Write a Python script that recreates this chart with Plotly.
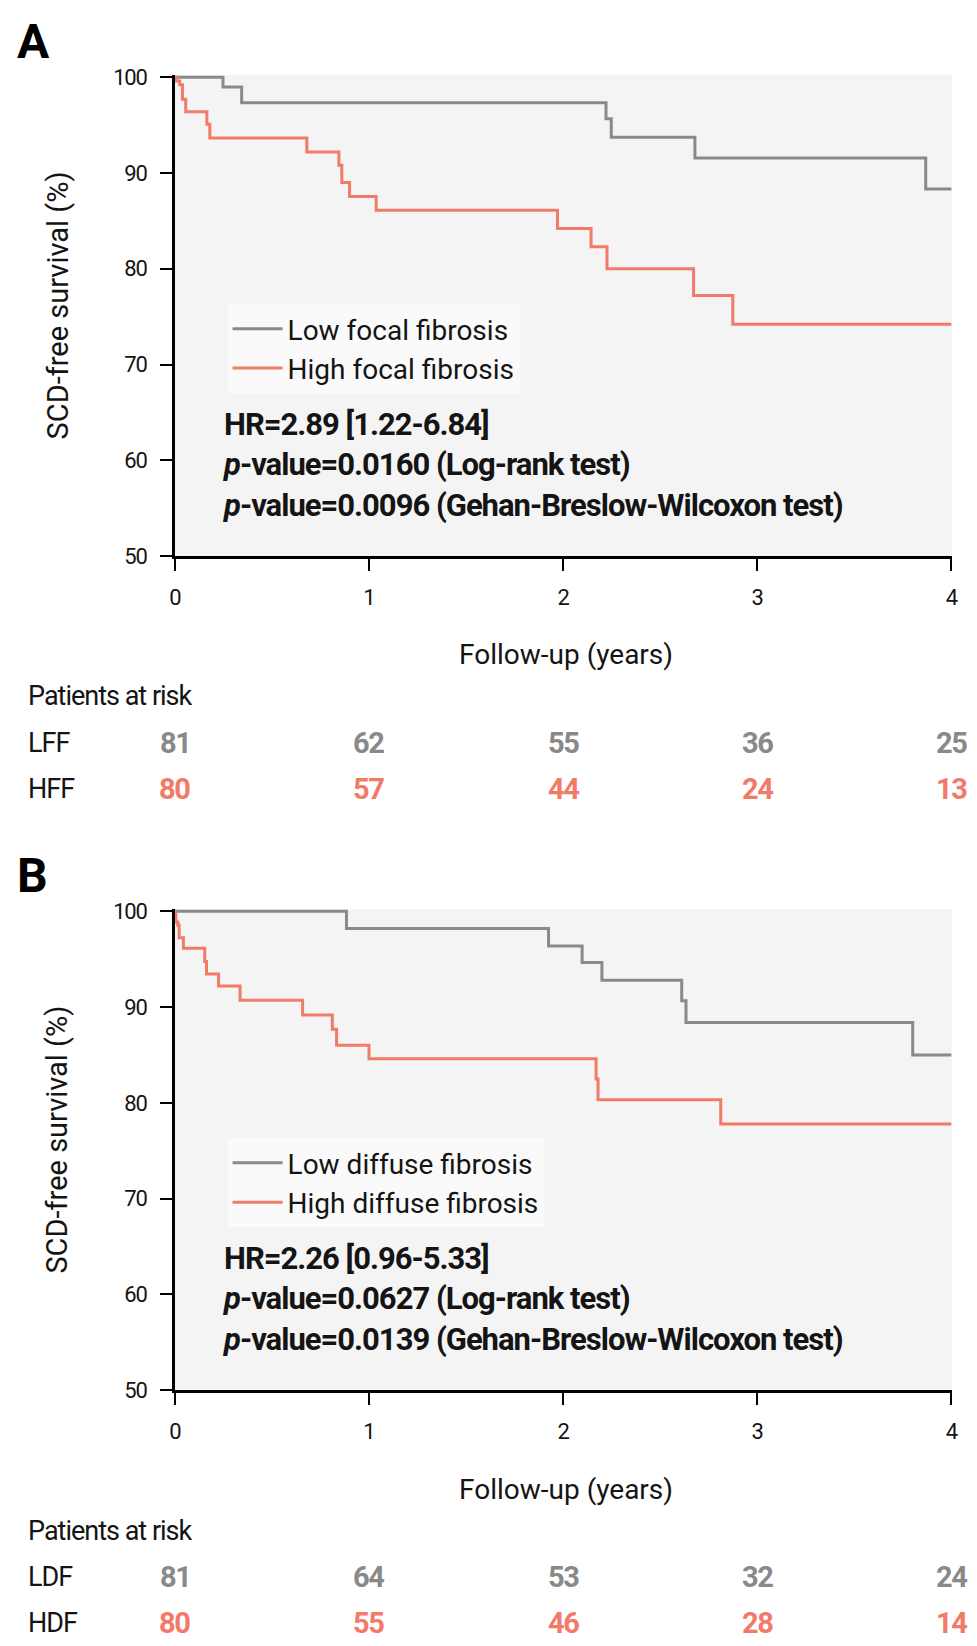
import plotly.graph_objects as go

# ---------------- data ----------------
# Panel A: focal fibrosis (Kaplan-Meier step curves, years vs SCD-free survival %)
lff_t = [0, 0.248, 0.344, 2.221, 2.248, 2.679, 3.868, 4.0]
lff_s = [100, 98.97, 97.32, 95.67, 93.72, 91.56, 88.33, 88.33]
hff_t = [0, 0.006, 0.025, 0.039, 0.056, 0.165, 0.18, 0.68, 0.845, 0.86, 0.90,
         1.037, 1.971, 2.144, 2.226, 2.672, 2.874, 4.0]
hff_s = [100, 99.6, 99.2, 97.7, 96.4, 95.1, 93.65, 92.2, 90.8, 89.0, 87.55,
         86.1, 84.2, 82.3, 80.0, 77.2, 74.2, 74.2]

# Panel B: diffuse fibrosis
ldf_t = [0, 0.884, 1.925, 2.098, 2.2, 2.611, 2.633, 3.801, 4.0]
ldf_s = [100, 98.2, 96.38, 94.67, 92.82, 90.66, 88.4, 85.0, 85.0]
hdf_t = [0, 0.005, 0.015, 0.022, 0.044, 0.154, 0.163, 0.225, 0.336, 0.658,
         0.811, 0.833, 1.0, 2.17, 2.18, 2.812, 4.0]
hdf_s = [100, 98.88, 98.54, 97.24, 96.15, 94.77, 93.47, 92.2, 90.73, 89.19,
         87.68, 86.03, 84.6, 82.5, 80.32, 77.8, 77.8]

# Patients at risk
risk_times = [0, 1, 2, 3, 4]
lff_risk = [81, 62, 55, 36, 25]
hff_risk = [80, 57, 44, 24, 13]
ldf_risk = [81, 64, 53, 32, 24]
hdf_risk = [80, 55, 46, 28, 14]

x_ticks = [0, 1, 2, 3, 4]
y_ticks = [50, 60, 70, 80, 90, 100]

stats_a = ["HR=2.89 [1.22-6.84]",
           "<i>p</i>-value=0.0160 (Log-rank test)",
           "<i>p</i>-value=0.0096 (Gehan-Breslow-Wilcoxon test)"]
stats_b = ["HR=2.26 [0.96-5.33]",
           "<i>p</i>-value=0.0627 (Log-rank test)",
           "<i>p</i>-value=0.0139 (Gehan-Breslow-Wilcoxon test)"]

# ---------------- style ----------------
W, H = 977, 1646
GRAY = "#898989"
RED = "#F27A68"
TXT = "#141414"
SANS = "Roboto, Liberation Sans, sans-serif"


def tight(s, ls):
    """tighten letter spacing to mimic the condensed face of the original"""
    return '<span style="letter-spacing:%spx">%s</span>' % (ls, s)


def py(px):  # pixel-from-top -> paper y
    return 1 - px / H


def pxx(px):  # pixel-from-left -> paper x
    return px / W


XDOM = [pxx(162.7), pxx(949)]
DY = 846  # vertical offset of panel B relative to panel A
dom_a = [py(545.7), py(57.6)]
dom_b = [py(545.7 + DY), py(57.6 + DY)]

fig = go.Figure()

fig.add_trace(go.Scatter(x=lff_t, y=lff_s, mode="lines", line=dict(shape="hv", color=GRAY, width=3),
                         name="Low focal fibrosis", xaxis="x", yaxis="y", legend="legend"))
fig.add_trace(go.Scatter(x=hff_t, y=hff_s, mode="lines", line=dict(shape="hv", color=RED, width=3),
                         name="High focal fibrosis", xaxis="x", yaxis="y", legend="legend"))
fig.add_trace(go.Scatter(x=ldf_t, y=ldf_s, mode="lines", line=dict(shape="hv", color=GRAY, width=3),
                         name="Low diffuse fibrosis", xaxis="x2", yaxis="y2", legend="legend2"))
fig.add_trace(go.Scatter(x=hdf_t, y=hdf_s, mode="lines", line=dict(shape="hv", color=RED, width=3),
                         name="High diffuse fibrosis", xaxis="x2", yaxis="y2", legend="legend2"))

tickfont = dict(family=SANS, size=22, color=TXT)
xax = dict(range=[0, 4.005], tickvals=x_ticks, ticktext=[tight(v, -1) for v in x_ticks],
           showgrid=False, zeroline=False,
           showline=True, linecolor="black", linewidth=2.5,
           ticks="outside", ticklen=12, tickwidth=2, tickcolor="black",
           tickfont=tickfont, ticklabelstandoff=8,
           domain=XDOM, fixedrange=True)
yax = dict(range=[50, 100.25], tickvals=y_ticks, ticktext=[tight(v, -1.2) for v in y_ticks],
           showgrid=False, zeroline=False,
           showline=True, linecolor="black", linewidth=2.5,
           ticks="outside", ticklen=12, tickwidth=2, tickcolor="black",
           tickfont=tickfont, ticklabelstandoff=9,
           fixedrange=True)

legend_style = dict(xanchor="left", yanchor="top", bgcolor="#fafafa", borderwidth=0,
                    font=dict(family=SANS, size=28, color=TXT), tracegroupgap=0,
                    itemwidth=50, itemclick=False, itemdoubleclick=False)

fig.update_layout(
    width=W, height=H,
    margin=dict(l=0, r=0, t=0, b=0),
    paper_bgcolor="white", plot_bgcolor="#f4f4f4",
    xaxis=dict(xax, anchor="y"),
    yaxis=dict(yax, domain=dom_a, anchor="x"),
    xaxis2=dict(xax, anchor="y2"),
    yaxis2=dict(yax, domain=dom_b, anchor="x2"),
    legend=dict(legend_style, x=pxx(216), y=py(290)),
    legend2=dict(legend_style, x=pxx(216), y=py(290 + DY)),
    showlegend=True,
)

ann = []
for k, (label, stats, rowlabels, risks, xref) in enumerate([
        ("A", stats_a, ["LFF", "HFF"], [lff_risk, hff_risk], "x"),
        ("B", stats_b, ["LDF", "HDF"], [ldf_risk, hdf_risk], "x2")]):
    off = k * DY
    ann.append(dict(text=tight("<b>%s</b>" % label, -1), x=pxx(1), y=py(24 + off), xref="paper", yref="paper",
                    xanchor="left", yanchor="middle", showarrow=False,
                    font=dict(family=SANS, size=48, color="black")))
    ann.append(dict(text=tight("<b>%s</b>" % "<br>".join(stats), -1), x=pxx(208), y=py(453 + off),
                    xref="paper", yref="paper", xanchor="left", yanchor="middle", align="left",
                    showarrow=False, font=dict(family=SANS, size=31, color=TXT)))
    ann.append(dict(text="SCD-free survival (%)", x=pxx(44), y=py(292 + off), xref="paper", yref="paper",
                    textangle=-90, xanchor="center", yanchor="middle", showarrow=False,
                    font=dict(family=SANS, size=29, color=TXT)))
    ann.append(dict(text="Follow-up (years)", x=pxx(558), y=py(646 + off), xref="paper", yref="paper",
                    xanchor="center", yanchor="middle", showarrow=False,
                    font=dict(family=SANS, size=28, color=TXT)))
    ann.append(dict(text=tight("Patients at risk", -1), x=pxx(12), y=py(688 + off), xref="paper", yref="paper",
                    xanchor="left", yanchor="middle", showarrow=False,
                    font=dict(family=SANS, size=27, color=TXT)))
    for r, (rl, vals, col) in enumerate(zip(rowlabels, risks, [GRAY, RED])):
        yy = py([735, 782][r] + off)
        ann.append(dict(text=tight(rl, -1), x=pxx(12), y=yy, xref="paper", yref="paper",
                        xanchor="left", yanchor="middle", showarrow=False,
                        font=dict(family=SANS, size=27, color=TXT)))
        for t, v in zip(risk_times, vals):
            ann.append(dict(text=tight("<b>%d</b>" % v, -1.5), x=t, y=yy, xref=xref, yref="paper",
                            xanchor="center", yanchor="middle", showarrow=False,
                            font=dict(family=SANS, size=29, color=col)))

fig.update_layout(annotations=ann)
fig.write_html("out.html")
